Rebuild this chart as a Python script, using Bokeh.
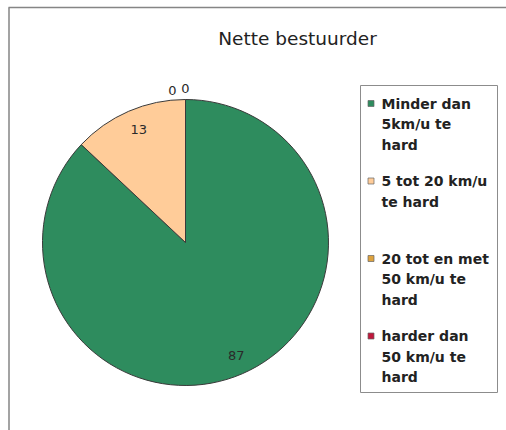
import math
from bokeh.plotting import figure
from bokeh.models import Range1d
from bokeh.core.properties import value
from bokeh.embed import file_html
from bokeh.resources import INLINE

# ---------------- data ----------------
title = "Nette bestuurder"
categories = [
    "Minder dan 5km/u te hard",
    "5 tot 20 km/u te hard",
    "20 tot en met 50 km/u te hard",
    "harder dan 50 km/u te hard",
]
legend_lines = [
    ["Minder dan", "5km/u te", "hard"],
    ["5 tot 20 km/u", "te hard"],
    ["20 tot en met", "50 km/u te", "hard"],
    ["harder dan", "50 km/u te", "hard"],
]
values = [87, 13, 0, 0]
colors = ["#2E8C5E", "#FFCC99", "#DDA23E", "#C0173B"]

# ---------------- layout ----------------
W, H = 506, 430


def py(page_y):
    # convert a page pixel row into data y
    return H - page_y


def px(page_x):
    return page_x


p = figure(width=W, height=H, output_backend="svg", toolbar_location=None,
           x_range=Range1d(0, W), y_range=Range1d(0, H),
           x_axis_type=None, y_axis_type=None, min_border=0)
p.grid.visible = False
p.outline_line_color = None
p.background_fill_color = "white"
p.border_fill_color = "white"

# chart frame (left and top edges visible)
p.segment(x0=[px(8.5), px(8)], y0=[py(7), py(7)],
          x1=[px(8.5), px(W + 5)], y1=[py(H + 5), py(7)],
          line_color="#858585", line_width=1.5)

# title
p.text(x=[px(297)], y=[py(38)], text=[title], text_font=value("DejaVu Sans"),
       text_font_size="18.5px", text_align="center", text_baseline="alphabetic",
       text_color="#222222")

# pie
cx, cy, r = px(185), py(242), 143
total = float(sum(values))
cum = 0.0
starts, ends, mids = [], [], []
for v in values:
    a0 = math.pi / 2 - 2 * math.pi * cum / total
    cum += v
    a1 = math.pi / 2 - 2 * math.pi * cum / total
    starts.append(a0)
    ends.append(a1)
    mids.append((a0 + a1) / 2)

for v, a0, a1, c in zip(values, starts, ends, colors):
    if v > 0:
        p.wedge(x=cx, y=cy, radius=r, start_angle=a0, end_angle=a1,
                direction="clock", fill_color=c, line_color="#3a3a3a",
                line_width=1)

# slice labels
lab_x, lab_y = [], []
zero_shift = [0, 0, -13, 0]
for i, (v, m) in enumerate(zip(values, mids)):
    if v > 0:
        rr = 0.86 * r
        lab_x.append(cx + rr * math.cos(m) + 2)
        lab_y.append(cy + rr * math.sin(m))
    else:
        rr = 1.07 * r
        lab_x.append(cx + rr * math.cos(m) + zero_shift[i])
        lab_y.append(cy + rr * math.sin(m) - (1 if i == 2 else -1))
p.text(x=lab_x, y=lab_y, text=[str(v) for v in values],
       text_font=value("DejaVu Sans"), text_font_size="13px",
       text_align="center", text_baseline="middle", text_color="#2a2a2a")

# legend
p.quad(left=[px(360)], right=[px(497)], top=[py(85)], bottom=[py(392)],
       fill_color="white", line_color="#8c8c8c", line_width=1)
for k, (lines, c) in enumerate(zip(legend_lines, colors)):
    y0 = 103 + k * 77.5
    p.rect(x=[px(370.5)], y=[py(y0)], width=6, height=6, fill_color=c,
           line_color="#666666", line_width=0.7)
    for j, t in enumerate(lines):
        p.text(x=[px(381)], y=[py(y0 + j * 20.5)], text=[t],
               text_font=value("DejaVu Sans"), text_font_size="14px",
               text_font_style="bold", text_align="left",
               text_baseline="middle", text_color="#222222")

open("out.html", "w").write(file_html(p, INLINE))
